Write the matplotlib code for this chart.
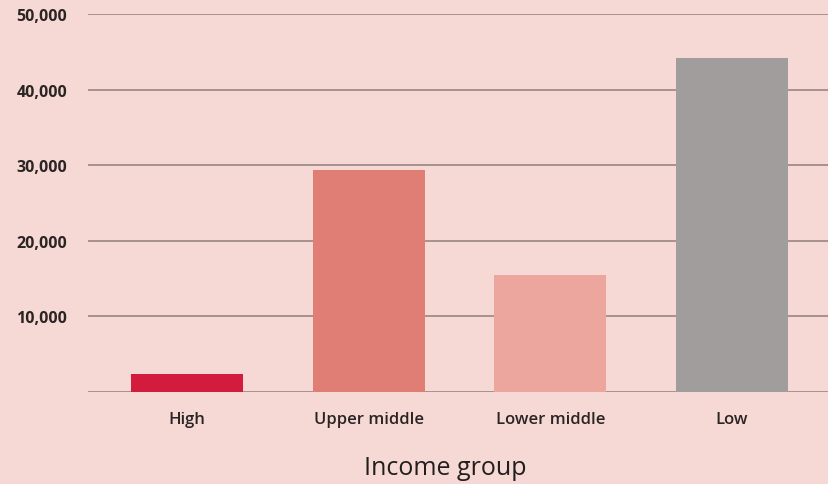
import matplotlib
matplotlib.use("Agg")
import matplotlib.pyplot as plt
from matplotlib.ticker import FuncFormatter

groups = ["High", "Upper middle", "Lower middle", "Low"]
values = [2400, 29300, 15500, 44200]
colors = ["#d21b3d", "#e07e75", "#eca69d", "#a19d9d"]
yticks = [10000, 20000, 30000, 40000, 50000]

bg = "#f6d9d4"
grid_c = "#a08c8a"

plt.rcParams["font.family"] = ["Open Sans", "DejaVu Sans"]

fig = plt.figure(figsize=(8.29, 4.85), dpi=100, facecolor=bg)
ax = fig.add_axes([88 / 829, 92 / 485, 741 / 829, 378 / 485])
ax.set_facecolor(bg)

x = range(len(groups))
ax.bar(x, values, width=0.617, color=colors, zorder=3)

ax.set_ylim(0, 50000)
ax.set_xlim(-0.545, 3.535)
ax.set_yticks(yticks)
ax.yaxis.set_major_formatter(FuncFormatter(lambda v, p: f"{int(v):,}"))
for y in [0] + yticks:
    ax.axhline(y, color=grid_c, lw=1.3, zorder=1)

ax.set_xticks(list(x))
ax.set_xticklabels(groups, fontsize=12, fontweight="semibold", color="#2b2424")
for lbl in ax.get_yticklabels():
    lbl.set_fontsize(11.5)
    lbl.set_fontweight("bold")
    lbl.set_color("#2b2424")
ax.tick_params(axis="both", length=0)
ax.tick_params(axis="y", pad=15)
ax.tick_params(axis="x", pad=14)
for s in ax.spines.values():
    s.set_visible(False)

ax.set_xlabel("Income group", fontsize=18, color="#231e1e")
# label sits a little left of the axes centre in the original
ax.xaxis.set_label_coords(0.482, -0.167)

fig.savefig("out.png", dpi=100, facecolor=bg)
